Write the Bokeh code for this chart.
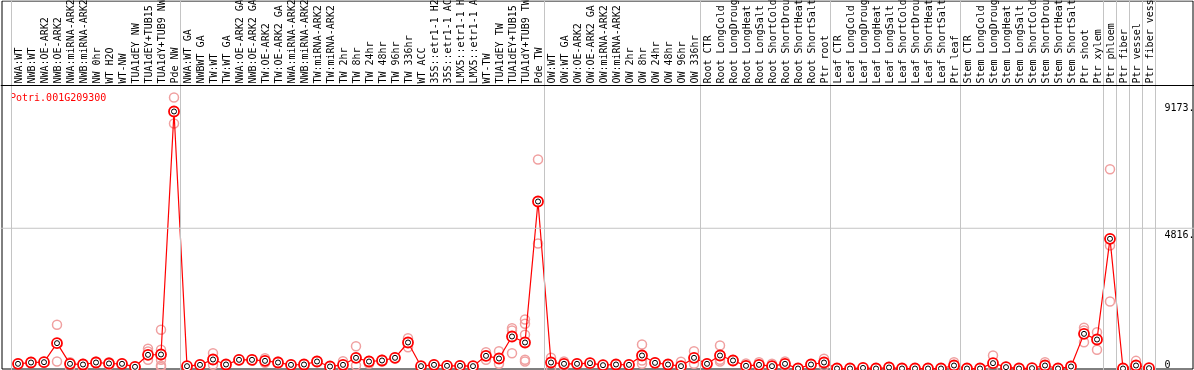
import math
from bokeh.plotting import figure
from bokeh.models import Range1d, Span
from bokeh.embed import file_html
from bokeh.resources import INLINE
from bokeh.core.properties import value

gene = "Potri.001G209300"

categories = [
    "NWA:WT", "NWB:WT", "NWA:OE-ARK2", "NWB:OE-ARK2", "NWA:miRNA-ARK2", "NWB:miRNA-ARK2",
    "NW 0hr", "WT H2O", "WT-NW", "TUA1dEY NW", "TUA1dEY+TUB15 NW", "TUA1dY+TUB9 NW", "Pde NW",
    "NWA:WT GA", "NWBWT GA", "TW:WT", "TW:WT GA", "NWA:OE-ARK2 GA", "NWB:OE-ARK2 GA",
    "TW:OE-ARK2", "TW:OE-ARK2 GA", "NWA:miRNA-ARK2", "NWB:miRNA-ARK2", "TW:miRNA-ARK2",
    "TW:miRNA-ARK2", "TW 2hr", "TW 8hr", "TW 24hr", "TW 48hr", "TW 96hr", "TW 336hr",
    "WT ACC", "35S::etr1-1 H2O", "35S::etr1-1 ACC", "LMX5::etr1-1 H2O", "LMX5::etr1-1 ACC",
    "WT-TW", "TUA1dEY TW", "TUA1dEY+TUB15 TW", "TUA1dY+TUB9 TW", "Pde TW",
    "OW:WT", "OW:WT GA", "OW:OE-ARK2", "OW:OE-ARK2 GA", "OW:miRNA-ARK2", "OW:miRNA-ARK2",
    "OW 2hr", "OW 8hr", "OW 24hr", "OW 48hr", "OW 96hr", "OW 336hr",
    "Root CTR", "Root LongCold", "Root LongDrought", "Root LongHeat", "Root LongSalt",
    "Root ShortCold", "Root ShortDrought", "Root ShortHeat", "Root ShortSalt", "Ptr root",
    "Leaf CTR", "Leaf LongCold", "Leaf LongDrought", "Leaf LongHeat", "Leaf LongSalt",
    "Leaf ShortCold", "Leaf ShortDrought", "Leaf ShortHeat", "Leaf ShortSalt", "Ptr leaf",
    "Stem CTR", "Stem LongCold", "Stem LongDrought", "Stem LongHeat", "Stem LongSalt",
    "Stem ShortCold", "Stem ShortDrought", "Stem ShortHeat", "Stem ShortSalt", "Ptr shoot",
    "Ptr xylem", "Ptr phloem", "Ptr fiber", "Ptr vessel", "Ptr fiber vessel",
]

group_sizes = [13, 28, 12, 10, 10, 11, 1, 1, 1, 1]

means = [
    161, 206, 217, 870, 161, 137, 206, 172, 161, 58, 470, 481, 8826,
    80, 126, 309, 137, 298, 298, 263, 206, 126, 137, 240, 69, 126, 367, 240, 275, 367, 893,
    80, 126, 92, 92, 80, 435, 343, 1099, 893, 5735,
    206, 161, 161, 183, 114, 137, 126, 446, 194, 137, 80, 367,
    161, 446, 275, 92, 126, 80, 161, 0, 137, 206,
    0, 0, 20, 0, 34, 0, 0, 0, 0, 103,
    0, 0, 183, 46, 0, 10, 103, 0, 69, 1190, 996,
    4454, 0, 103, 10,
]

replicates = [
    [170, 150], [220, 190], [230, 200], [1500, 240], [217, 24], [160, 24], [240, 180], [217, 130],
    [175, 150], [70, 45], [676, 584, 298], [1329, 642, 299, 103, 50], [9306, 8413],
    [90, 40], [140, 110], [525, 126], [150, 120], [310, 285], [310, 285], [350, 200], [240, 170],
    [140, 110], [150, 125], [255, 225], [80, 55], [252, 24], [767, 103], [255, 160], [300, 240],
    [380, 350], [1041, 732],
    [90, 70], [140, 110], [105, 80], [105, 80], [90, 70], [561, 298], [595, 160],
    [1384, 1305, 525], [1683, 1534, 1157, 298, 240], [7177, 4293],
    [367, 0], [240, 80], [175, 150], [200, 165], [125, 100], [150, 125], [140, 110],
    [824, 275, 161], [210, 180], [150, 125], [229, 30], [595, 161],
    [175, 150], [790, 298, 240], [290, 260], [172, 30], [217, 50], [161, 20], [240, 90],
    [10, 0], [150, 125], [332, 90],
    [10, 0], [10, 0], [30, 10], [10, 0], [50, 20], [10, 0], [10, 0], [10, 0], [10, 0], [217, 20],
    [10, 0], [10, 0], [446, 0], [60, 30], [10, 0], [20, 0], [217, 20], [10, 0], [90, 50],
    [1397, 1305, 904], [1247, 642],
    [6844, 4224, 2301], [10, 0], [263, 30], [20, 0],
]

tick_values = [0, 4816, 9173]
tick_labels = ["0", "4816.", "9173."]

# ---- layout (pixels) ----
W, H = 1194, 370
PLOT_LEFT_PX = 11.0        # left edge of first category band
BAND_PX = 13.0             # width of one category band
ZERO_PX = 368.0            # pixel row of value 0
PPU = 0.02912              # pixels per expression unit
HEADER_PX = 85.0           # separator between labels and plot

def y_of_px(py):
    return (ZERO_PX - py) / PPU

def x_of_px(px):
    return (px - PLOT_LEFT_PX) / BAND_PX

FONT = value("DejaVu Sans Mono")

p = figure(
    width=W, height=H, output_backend="svg", toolbar_location=None,
    x_range=Range1d(x_of_px(0), x_of_px(W)),
    y_range=Range1d(y_of_px(H), y_of_px(0)),
    min_border=0, outline_line_color=None,
    background_fill_color="white", border_fill_color="white",
    styles={"position": "fixed", "top": "0px", "left": "0px"},
)
p.axis.visible = False
p.xgrid.visible = False
p.ygrid.visible = False

grid_color = "#c4c4c4"

# vertical group separators
bounds = [0]
for g in group_sizes:
    bounds.append(bounds[-1] + g)
for b in bounds:
    p.add_layout(Span(location=b, dimension="height", line_color=grid_color, line_width=1))

# horizontal reference line
p.add_layout(Span(location=tick_values[1], dimension="width", line_color=grid_color, line_width=1))

# header separator and outer border
p.add_layout(Span(location=y_of_px(HEADER_PX), dimension="width", line_color="black", line_width=1))
bx0, bx1 = x_of_px(1.5), x_of_px(W - 1.5)
by0, by1 = y_of_px(H - 1.5), y_of_px(0.5)
p.line([bx0, bx1, bx1, bx0, bx0], [by1, by1, by0, by0, by1], line_color="black", line_width=1)

# category labels (vertical)
xs = [i + 0.5 for i in range(len(categories))]
p.text(x=xs, y=[y_of_px(HEADER_PX - 2)] * len(xs), text=categories, angle=math.pi / 2,
       text_align="left", text_baseline="middle", text_font=FONT,
       text_font_size="10px", text_color="black")

# replicates
rx, ry = [], []
for i, reps in enumerate(replicates):
    for v in reps:
        rx.append(i + 0.5)
        ry.append(v)
p.scatter(rx, ry, marker="circle", size=9, fill_color=None,
          line_color="#f0a0a0", line_width=1.5)

# mean line and markers
p.line(xs, means, line_color="red", line_width=1.2)
p.scatter(xs, means, marker="circle", size=10, fill_color="white",
          line_color="red", line_width=1.8)
p.scatter(xs, means, marker="circle", size=5, fill_color=None,
          line_color="black", line_width=1)

# gene name
p.text(x=[x_of_px(9.5)], y=[y_of_px(97)], text=[gene], text_align="left",
       text_baseline="middle", text_font=FONT, text_font_size="10px", text_color="red")

# right-hand value labels
ty = []
for v in tick_values:
    top_px = min(ZERO_PX - v * PPU + 2, 359)
    ty.append(y_of_px(top_px))
p.text(x=[x_of_px(1164)] * len(tick_values), y=ty, text=tick_labels, text_align="left",
       text_baseline="top", text_font=FONT, text_font_size="10px", text_color="black")

open("out.html", "w").write(file_html(p, INLINE))
